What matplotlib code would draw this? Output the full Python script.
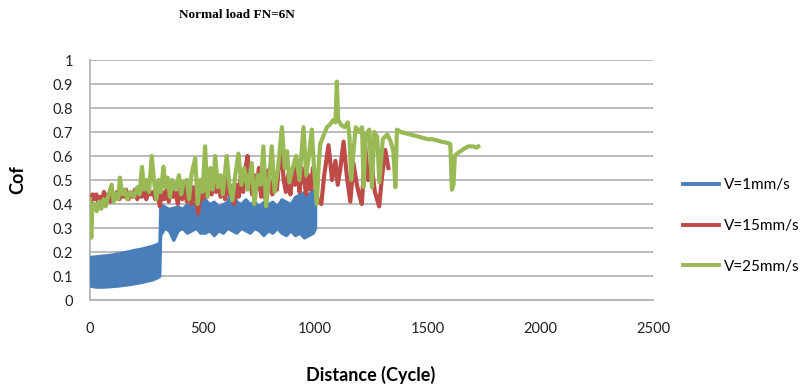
import matplotlib
matplotlib.use("Agg")
import matplotlib.pyplot as plt
from matplotlib.lines import Line2D

# V=1mm/s - banda (minimo e maximo) do sinal azul
azul_x = [0, 25, 50, 75, 100, 125, 150, 175, 200, 225, 250, 275, 300, 308,
          312, 330, 350, 370, 390, 410, 430, 450, 470, 490, 510, 530, 550, 570,
          590, 610, 630, 650, 670, 690, 710, 730, 750, 770, 790, 810, 830, 850,
          870, 890, 910, 930, 950, 970, 990, 1000]
azul_min = [0.06, 0.055, 0.055, 0.056, 0.058, 0.06, 0.063, 0.066, 0.07, 0.074, 0.08, 0.085, 0.095, 0.1,
            0.27, 0.30, 0.29, 0.25, 0.29, 0.30, 0.28, 0.29, 0.30, 0.28, 0.28, 0.29, 0.27, 0.29,
            0.28, 0.30, 0.29, 0.28, 0.30, 0.29, 0.28, 0.30, 0.29, 0.27, 0.29, 0.28, 0.30, 0.28,
            0.27, 0.29, 0.27, 0.28, 0.26, 0.27, 0.28, 0.30]
azul_max = [0.18, 0.182, 0.185, 0.187, 0.19, 0.195, 0.2, 0.204, 0.21, 0.214, 0.22, 0.226, 0.235, 0.24,
            0.40, 0.39, 0.38, 0.385, 0.39, 0.38, 0.40, 0.39, 0.41, 0.44, 0.42, 0.40, 0.41, 0.39,
            0.40, 0.41, 0.48, 0.41, 0.40, 0.42, 0.40, 0.41, 0.39, 0.41, 0.40, 0.41, 0.39, 0.42,
            0.41, 0.40, 0.43, 0.44, 0.45, 0.44, 0.46, 0.45]

# V=15mm/s
vermelho_x = [0, 5, 12, 20, 28, 35, 45, 55, 62, 70, 80, 90, 100, 110, 120, 130, 140, 150, 160, 170,
              180, 190, 200, 210, 220, 230, 240, 250, 260, 270, 280, 290, 300, 310, 320, 330, 340, 350,
              360, 370, 380, 390, 400, 410, 420, 430, 440, 450, 460, 470, 480, 490, 500, 510, 520, 530,
              540, 550, 560, 570, 580, 590, 600, 610, 620, 630, 640, 650, 660, 670, 680, 690, 700, 710,
              720, 730, 740, 750, 760, 770, 780, 790, 800, 810, 820, 830, 840, 850, 860, 870, 880, 890,
              900, 910, 920, 930, 940, 950, 960, 970, 980, 990, 1000, 1010, 1027, 1040, 1059, 1075,
              1090, 1100, 1112, 1126, 1140, 1156, 1170, 1185, 1195, 1207, 1222, 1235, 1250, 1265,
              1284, 1295, 1311, 1325]
vermelho_y = [0.43, 0.41, 0.44, 0.42, 0.44, 0.41, 0.43, 0.42, 0.45, 0.42, 0.44, 0.41, 0.44, 0.42, 0.45, 0.42, 0.44, 0.43, 0.46, 0.42,
              0.44, 0.43, 0.46, 0.42, 0.45, 0.43, 0.45, 0.42, 0.46, 0.44, 0.45, 0.42, 0.44, 0.39, 0.45, 0.42, 0.46, 0.41,
              0.47, 0.43, 0.45, 0.40, 0.46, 0.42, 0.48, 0.41, 0.45, 0.40, 0.47, 0.42, 0.36, 0.45, 0.42, 0.48, 0.43, 0.49,
              0.44, 0.52, 0.45, 0.50, 0.43, 0.47, 0.42, 0.50, 0.44, 0.46, 0.40, 0.48, 0.43, 0.52, 0.45, 0.55, 0.60, 0.50,
              0.44, 0.52, 0.46, 0.55, 0.43, 0.50, 0.42, 0.54, 0.48, 0.44, 0.52, 0.46, 0.58, 0.62, 0.50, 0.45, 0.52, 0.44,
              0.55, 0.48, 0.58, 0.45, 0.55, 0.50, 0.44, 0.52, 0.46, 0.55, 0.48, 0.42, 0.40, 0.52, 0.645, 0.50,
              0.58, 0.48, 0.55, 0.66, 0.52, 0.41, 0.57, 0.48, 0.44, 0.40, 0.64, 0.50, 0.57, 0.45,
              0.39, 0.50, 0.625, 0.55]

# V=25mm/s
verde_x = [0, 3, 6, 10, 20, 30, 40, 50, 60, 70, 80, 96, 105, 115, 125, 133, 142, 155, 165, 180, 195,
           210, 220, 231, 240, 250, 262, 274, 285, 295, 305, 315, 326, 335, 345, 355, 365, 380, 395,
           405, 415, 430, 440, 450, 467, 478, 490, 500, 511, 522, 535, 545, 556, 568, 580, 590, 607,
           620, 632, 645, 659, 672, 685, 700, 718, 730, 745, 758, 770, 782, 795, 807, 820, 835, 852,
           865, 875, 885, 900, 915, 930, 948, 960, 972, 985, 995, 1007, 1015, 1022, 1035, 1052, 1065,
           1080, 1090, 1096, 1102, 1115, 1130, 1145, 1152, 1160, 1170, 1180, 1195, 1208, 1215, 1225,
           1240, 1252, 1262, 1275, 1285, 1300, 1320, 1335, 1347, 1356, 1363, 1380, 1400, 1420, 1440,
           1460, 1480, 1500, 1520, 1540, 1560, 1585, 1600, 1607, 1614, 1620, 1630, 1645, 1660, 1680,
           1700, 1715, 1724]
verde_y = [0.42, 0.30, 0.26, 0.38, 0.40, 0.37, 0.41, 0.38, 0.42, 0.39, 0.43, 0.48, 0.41, 0.44, 0.42, 0.51, 0.44, 0.46, 0.42, 0.45, 0.43,
           0.47, 0.44, 0.555, 0.46, 0.50, 0.45, 0.60, 0.49, 0.42, 0.50, 0.45, 0.555, 0.47, 0.51, 0.43, 0.50, 0.46, 0.52,
           0.44, 0.49, 0.50, 0.42, 0.52, 0.59, 0.40, 0.50, 0.45, 0.64, 0.43, 0.55, 0.46, 0.60, 0.47, 0.52, 0.44, 0.60,
           0.47, 0.415, 0.52, 0.61, 0.48, 0.55, 0.46, 0.57, 0.40, 0.52, 0.48, 0.64, 0.39, 0.50, 0.64, 0.45, 0.55, 0.72,
           0.55, 0.62, 0.49, 0.55, 0.60, 0.50, 0.72, 0.52, 0.60, 0.71, 0.55, 0.40, 0.55, 0.65, 0.68, 0.72, 0.73,
           0.75, 0.74, 0.91, 0.75, 0.73, 0.72, 0.74, 0.68, 0.50, 0.62, 0.72, 0.70, 0.72, 0.47, 0.69,
           0.71, 0.47, 0.70, 0.68, 0.49, 0.67, 0.69, 0.66, 0.62, 0.47, 0.71, 0.70, 0.695, 0.69, 0.685,
           0.68, 0.675, 0.67, 0.67, 0.665, 0.66, 0.655, 0.65, 0.46, 0.48, 0.60, 0.61, 0.62, 0.63, 0.64,
           0.64, 0.635, 0.64]

ticks_x = [0, 500, 1000, 1500, 2000, 2500]
ticks_y = [0, 0.1, 0.2, 0.3, 0.4, 0.5, 0.6, 0.7, 0.8, 0.9, 1]
ticks_y_txt = ["0", "0.1", "0.2", "0.3", "0.4", "0.5", "0.6", "0.7", "0.8", "0.9", "1"]

cor_azul = "#4a7ebb"
cor_vermelho = "#be4b48"
cor_verde = "#98b954"

fig = plt.figure(figsize=(8.07, 3.85), dpi=100)
ax = fig.add_axes([90 / 807, 85 / 385, 563 / 807, 240 / 385])

# SERIES (azul em baixo, verde por cima - ordem do excel)
ax.fill_between(azul_x, azul_min, azul_max, color=cor_azul, linewidth=2.2, edgecolor=cor_azul, zorder=3)
ax.plot(vermelho_x, vermelho_y, color=cor_vermelho, linewidth=3.0, zorder=4)
ax.plot(verde_x, verde_y, color=cor_verde, linewidth=3.0, zorder=5)

ax.set_xlim(0, 2500)
ax.set_ylim(0, 1)
ax.set_xticks(ticks_x)
ax.set_yticks(ticks_y)
ax.set_yticklabels(ticks_y_txt)
ax.tick_params(length=0, labelsize=10.5, colors="#222222")
ax.tick_params(axis="x", pad=16)
ax.tick_params(axis="y", pad=12)
for lbl in ax.get_xticklabels() + ax.get_yticklabels():
    lbl.set_fontfamily("Lato")

ax.grid(axis="y", color="#b4b4b4", linewidth=1.3)
ax.set_axisbelow(True)
for lado in ["top", "right"]:
    ax.spines[lado].set_visible(False)
ax.spines["left"].set_color("#b4b4b4")
ax.spines["bottom"].set_color("#b4b4b4")
ax.spines["left"].set_linewidth(1.3)
ax.spines["bottom"].set_linewidth(1.3)

# TITULOS
fig.text(237 / 807, 1 - 15 / 385, "Normal load FN=6N", ha="center", va="center",
         fontfamily="Liberation Serif", fontweight="bold", fontsize=9.5)
fig.text(18 / 807, 1 - 180 / 385, "Cof", rotation=90, ha="center", va="center",
         fontfamily="Lato", fontweight="bold", fontsize=13)
fig.text(371 / 807, 1 - 375 / 385, "Distance (Cycle)", ha="center", va="center",
         fontfamily="Lato", fontweight="bold", fontsize=13)

# LEGENDA
itens = [Line2D([], [], color=cor_azul, linewidth=2.8),
         Line2D([], [], color=cor_vermelho, linewidth=2.8),
         Line2D([], [], color=cor_verde, linewidth=2.8)]
fig.legend(itens, ["V=1mm/s", "V=15mm/s", "V=25mm/s"], loc="center left",
           bbox_to_anchor=(675 / 807, 1 - 226 / 385), frameon=False, borderpad=0,
           handlelength=2.4, handletextpad=0.3, labelspacing=1.75,
           prop={"family": "Lato", "size": 11})

plt.savefig("out.png", dpi=100)
